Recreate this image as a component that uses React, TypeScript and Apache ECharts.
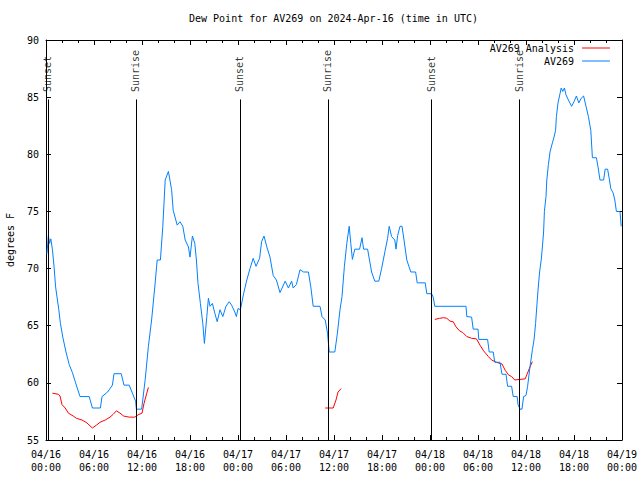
import React, { useEffect, useRef } from 'react';
import * as echarts from 'echarts';

const FONT = 'DejaVu Sans Mono';

const xTickLabels = [
  '04/16\n00:00', '04/16\n06:00', '04/16\n12:00', '04/16\n18:00',
  '04/17\n00:00', '04/17\n06:00', '04/17\n12:00', '04/17\n18:00',
  '04/18\n00:00', '04/18\n06:00', '04/18\n12:00', '04/18\n18:00',
  '04/19\n00:00',
];

// hours since 04/16 00:00 UTC
const blueHours = [
  0.12, 0.3, 0.45, 0.6, 0.8, 1.0, 1.2, 1.6, 1.8, 2.1, 2.5, 2.9, 3.3, 3.7, 4.25, 5.4, 5.8, 6.8, 7.0, 7.7,
  8.3, 8.5, 9.4, 9.75, 10.4, 10.8, 11.2, 11.3, 11.96, 12.4, 12.8, 13.2, 13.6, 13.9, 14.3, 14.6, 14.9, 15.3, 15.7, 15.9,
  16.4, 16.75, 17.1, 17.4, 17.8, 18.0, 18.3, 18.6, 18.8, 19.0, 19.3, 19.6, 19.8, 20.1, 20.3, 20.5, 20.8, 21.1, 21.4, 21.75,
  22.1, 22.5, 22.9, 23.2, 23.6, 23.8, 24.0, 24.3, 24.7, 25.1, 25.5, 25.9, 26.25, 26.7, 26.95, 27.25, 27.6, 28.0, 28.4, 28.8,
  29.25, 29.9, 30.3, 30.7, 30.9, 31.3, 31.75, 32.2, 32.8, 33.1, 33.4, 34.25, 34.5, 34.9, 35.2, 35.4, 36.1, 36.4, 36.75, 37.0,
  37.3, 37.6, 37.9, 38.1, 38.3, 38.6, 39.2, 39.5, 39.7, 40.2, 40.5, 40.7, 41.1, 41.6, 41.95, 42.4, 42.7, 42.9, 43.2, 43.6,
  43.75, 43.96, 44.25, 44.5, 44.75, 45.1, 45.6, 46.2, 46.4, 47.4, 47.6, 48.2, 48.4, 48.6, 52.5, 52.6, 53.2, 53.4, 54.0, 54.1,
  55.2, 55.4, 55.9, 56.1, 56.75, 57.0, 57.5, 57.7, 58.2, 58.4, 58.9, 59.0, 59.25, 59.5, 59.7, 60.0, 60.2, 60.5, 60.8, 61.0,
  61.2, 61.3, 61.5, 61.7, 61.9, 62.0, 62.2, 62.3, 62.5, 62.6, 62.8, 63.0, 63.3, 63.5, 63.7, 63.8, 64.0, 64.25, 64.4, 64.6,
  64.8, 65.0, 65.3, 65.7, 66.0, 66.3, 66.6, 66.9, 67.2, 67.5, 67.8, 68.1, 68.3, 68.8, 69.0, 69.25, 69.7, 69.9, 70.2, 70.4,
  70.6, 70.9, 71.1, 71.3, 71.75, 71.9,
];
const blueValues = [
  71.3, 72.9, 72.2, 72.6, 71.7, 70.2, 68.4, 66.4, 65.2, 64.0, 62.7, 61.6, 60.9, 60.0, 58.8, 58.8, 57.8, 57.8, 58.8, 59.2,
  59.8, 60.8, 60.8, 59.8, 59.8, 59.1, 58.4, 57.7, 57.7, 60.3, 63.2, 65.5, 68.4, 70.75, 70.75, 73.7, 77.75, 78.5, 76.9, 75.1,
  73.8, 74.1, 73.7, 72.5, 71.9, 71.0, 72.85, 72.2, 70.75, 68.7, 66.95, 65.2, 63.45, 65.8, 67.4, 66.7, 66.95, 66.1, 65.35, 66.4,
  65.8, 66.7, 67.1, 66.8, 66.2, 65.8, 66.5, 66.4, 67.8, 69.0, 70.0, 70.9, 70.2, 70.9, 72.35, 72.85, 71.9, 71.0, 69.4, 69.0,
  67.9, 68.9, 68.3, 68.9, 68.3, 68.6, 69.9, 69.7, 69.7, 68.4, 66.7, 66.7, 65.8, 65.5, 64.3, 62.7, 62.7, 64.2, 66.4, 67.55,
  70.2, 72.2, 73.7, 72.2, 70.8, 71.7, 71.7, 72.7, 71.7, 71.7, 70.5, 69.7, 68.9, 68.9, 70.0, 71.6, 72.65, 73.7, 72.8, 72.5,
  71.7, 72.9, 73.7, 73.7, 72.5, 70.75, 69.7, 69.7, 68.75, 68.75, 67.8, 67.8, 67.5, 66.7, 66.7, 65.8, 65.75, 64.7, 64.7, 63.8,
  63.8, 62.7, 62.7, 61.8, 61.8, 60.75, 60.75, 59.7, 59.7, 58.8, 58.8, 58.1, 57.7, 57.7, 58.8, 58.9, 59.7, 61.4, 62.9, 63.75,
  65.2, 66.2, 68.1, 69.7, 70.75, 71.5, 73.2, 75.0, 76.3, 77.75, 79.1, 80.2, 81.0, 81.5, 82.1, 83.3, 84.5, 85.3, 85.8, 85.5,
  85.8, 85.2, 84.75, 84.2, 84.6, 85.1, 84.5, 84.9, 85.1, 84.2, 83.3, 82.1, 79.7, 79.7, 78.9, 77.75, 77.75, 78.7, 78.7, 77.9,
  77.0, 76.6, 76.0, 75.0, 75.0, 73.7,
];

// null = gap in the analysis line
const redHours = [
  0.8, 1.54, 1.75, 2.0, 2.4, 2.8, 3.4, 3.8, 4.5, 5.1, 5.8, 6.3, 6.75, 7.4, 8.0, 8.4, 8.8, 9.25, 9.7, 10.4,
  11.1, 11.5, 12.0, 12.25, 12.6, 12.8, 20.0,
  34.9, 35.9, 36.25, 36.5, 36.9, 42.0,
  48.6, 49.2, 49.7, 50.1, 50.5, 50.9, 51.25, 51.7, 52.1, 52.6, 53.2, 53.8, 54.25, 54.7, 55.3, 55.7, 56.3, 57.0, 57.4, 57.8,
  58.2, 58.6, 59.2, 59.9, 60.1, 60.5, 60.8,
];
const redValues = [
  59.1, 59.0, 58.85, 58.1, 57.8, 57.35, 57.1, 56.9, 56.75, 56.5, 56.05, 56.3, 56.55, 56.75, 57.0, 57.25, 57.55, 57.35, 57.1, 57.0,
  57.0, 57.2, 57.35, 58.2, 59.1, 59.6, null,
  57.8, 57.8, 58.5, 59.2, 59.5, null,
  65.55, 65.65, 65.7, 65.65, 65.4, 65.35, 64.9, 64.55, 64.4, 64.05, 63.9, 63.85, 63.3, 62.8, 62.3, 62.0, 61.8, 61.65, 61.1, 60.7,
  60.55, 60.25, 60.3, 60.35, 60.7, 61.4, 61.85,
];

const eventHours = [0.25, 11.3, 24.3, 35.3, 48.2, 59.2];
const eventNames = ['Sunset', 'Sunrise', 'Sunset', 'Sunrise', 'Sunset', 'Sunrise'];
const eventLineTop = 84.8;
const eventLabelBase = 85.4;

export default function App() {
  const ref = useRef<HTMLDivElement>(null);
  useEffect(() => {
    if (!ref.current) return;
    const chart = echarts.init(ref.current, undefined, { renderer: 'svg' });
    const tickCommon = { lineStyle: { color: '#000', width: 1 } };
    const xBase = {
      type: 'value', min: 0, max: 72, interval: 6,
      axisLine: { show: true, onZero: false, lineStyle: { color: '#000', width: 1 } },
      axisTick: { show: true, inside: true, length: 5, ...tickCommon },
      minorTick: { show: true, splitNumber: 3, length: 3, ...tickCommon },
      splitLine: { show: false },
      minorSplitLine: { show: false },
    };
    const yBase = {
      type: 'value', min: 55, max: 90, interval: 5,
      axisLine: { show: true, onZero: false, lineStyle: { color: '#000', width: 1 } },
      axisTick: { show: true, inside: true, length: 5, ...tickCommon },
      splitLine: { show: false },
    };
    const option: any = {
      animation: false,
      backgroundColor: '#fff',
      title: {
        text: 'Dew Point for AV269 on 2024-Apr-16 (time in UTC)',
        left: 189, top: 13, padding: 0,
        textStyle: { fontFamily: FONT, fontSize: 10, fontWeight: 'normal', color: '#000' },
      },
      legend: [
        {
          data: ['AV269 Analysis'], right: 30, top: 43, padding: 0, align: 'right', icon: 'rect',
          itemWidth: 28, itemHeight: 1, itemGap: 0,
          textStyle: { fontFamily: FONT, fontSize: 10, color: '#000', padding: [0, 3, 0, 0] },
        },
        {
          data: ['AV269'], right: 30, top: 56, padding: 0, align: 'right', icon: 'rect',
          itemWidth: 28, itemHeight: 1, itemGap: 0,
          textStyle: { fontFamily: FONT, fontSize: 10, color: '#000', padding: [0, 3, 0, 0] },
        },
      ],
      grid: { left: 46, right: 18, top: 40, bottom: 40, containLabel: false, outerBoundsMode: 'none' },
      xAxis: [
        {
          ...xBase, position: 'bottom',
          axisLabel: {
            show: true, margin: 8, fontFamily: FONT, fontSize: 10, color: '#000', lineHeight: 13,
            formatter: (v: number) => xTickLabels[Math.round(v / 6)] ?? '',
          },
        },
        { ...xBase, position: 'top', axisLabel: { show: false } },
      ],
      yAxis: [
        {
          ...yBase, position: 'left',
          name: 'degrees F', nameLocation: 'middle', nameGap: 31,
          nameTextStyle: { fontFamily: FONT, fontSize: 10, color: '#000' },
          axisLabel: { show: true, margin: 7, fontFamily: FONT, fontSize: 10, color: '#000' },
        },
        { ...yBase, position: 'right', axisLabel: { show: false } },
      ],
      series: [
        {
          name: 'events', type: 'scatter', xAxisIndex: 0, yAxisIndex: 0,
          data: eventHours.map((h, i) => ({ value: [h, eventLabelBase], name: eventNames[i] })),
          symbolSize: 1, itemStyle: { color: 'rgba(0,0,0,0)' }, silent: true,
          label: {
            show: true, formatter: '{b}', rotate: 90, position: [0, 0],
            align: 'left', verticalAlign: 'middle',
            fontFamily: FONT, fontSize: 10, color: '#000',
          },
          markLine: {
            silent: true, symbol: ['none', 'none'], label: { show: false },
            lineStyle: { color: '#000', width: 1, type: 'solid' },
            data: eventHours.map((h) => [{ coord: [h, 55] }, { coord: [h, eventLineTop] }]),
          },
        },
        {
          name: 'AV269 Analysis', type: 'line', showSymbol: false, symbol: 'none',
          connectNulls: false,
          lineStyle: { color: '#ff0000', width: 1 }, itemStyle: { color: '#ff0000' },
          data: redHours.map((h, i) => [h, redValues[i] == null ? '-' : redValues[i]]),
        },
        {
          name: 'AV269', type: 'line', showSymbol: false, symbol: 'none',
          lineStyle: { color: '#0080ff', width: 1 }, itemStyle: { color: '#0080ff' },
          data: blueHours.map((h, i) => [h, blueValues[i]]),
        },
      ],
    };
    chart.setOption(option);
    return () => chart.dispose();
  }, []);
  return (
    <div
      ref={ref}
      style={{ position: 'absolute', left: 0, top: 0, width: 640, height: 480, background: '#fff' }}
    />
  );
}
